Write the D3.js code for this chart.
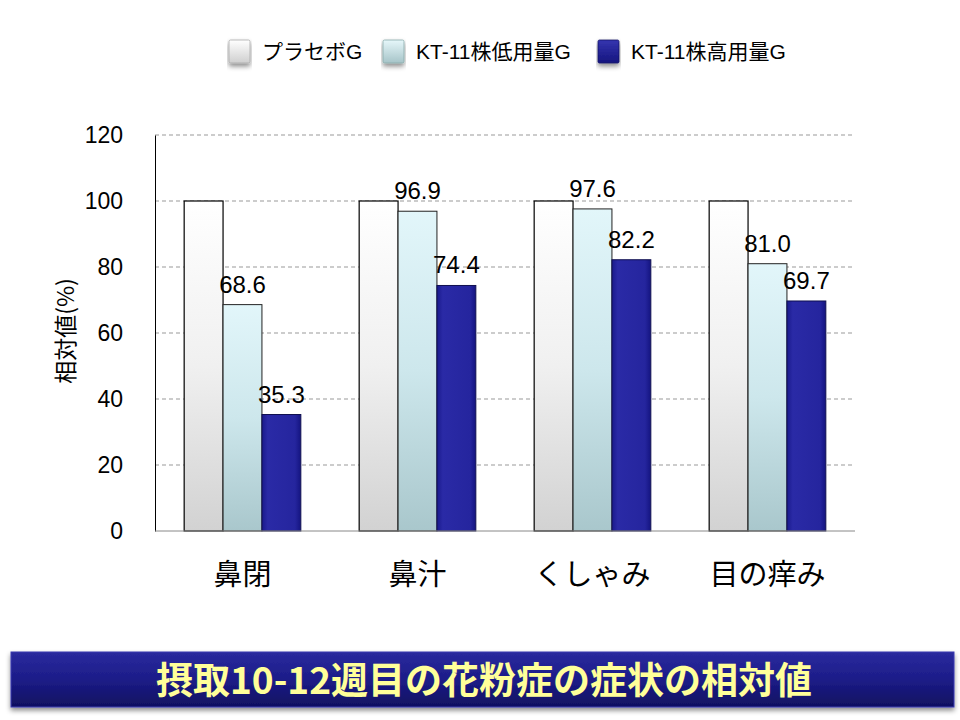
<!DOCTYPE html>
<html><head><meta charset="utf-8">
<script src="https://cdn.jsdelivr.net/npm/d3@7"></script>
<style>
body{margin:0;background:#fff;}
svg{display:block;font-family:"Liberation Sans","Noto Sans CJK JP",sans-serif;}
</style></head>
<body><svg id="c" width="960" height="720"></svg>
<script>
const categories = ["鼻閉","鼻汁","くしゃみ","目の痒み"];
const seriesNames = ["プラセボG","KT-11株低用量G","KT-11株高用量G"];
const placebo = [100,100,100,100];
const lowDose = [68.6,96.9,97.6,81.0];
const highDose = [35.3,74.4,82.2,69.7];
const yTicks = [0,20,40,60,80,100,120];
const title = "摂取10-12週目の花粉症の症状の相対値";
const yLabel = "相対値(%)";

(function(){
const LAT = "'Liberation Sans','Noto Sans CJK JP',sans-serif";
const CJK = "'Noto Sans CJK JP','Liberation Sans',sans-serif";
const svg = d3.select("#c");
const defs = svg.append("defs");
function grad(id, stops, horiz){
  const g = defs.append("linearGradient").attr("id",id)
    .attr("x1",0).attr("y1",0).attr("x2",horiz?1:0).attr("y2",horiz?0:1);
  stops.forEach(s=>g.append("stop").attr("offset",s[0]).attr("stop-color",s[1]));
}
grad("g0",[[0,"#ffffff"],[0.5,"#f0f0f0"],[1,"#d2d2d2"]]);
grad("g1",[[0,"#e2f6fa"],[0.5,"#cde7ec"],[1,"#a9c7cc"]]);
grad("g2",[[0,"#1a1a8c"],[0.15,"#2a2aa6"],[0.85,"#25259e"],[1,"#141480"]],true);
grad("gl0",[[0,"#ffffff"],[1,"#cfcfcf"]]);
grad("gl1",[[0,"#e6f7fa"],[1,"#a6c4c8"]]);
grad("gl2",[[0,"#3535b0"],[1,"#15157e"]]);
grad("ban",[[0,"#2a2a9e"],[0.5,"#1c1c88"],[1,"#101060"]]);
const shadow = defs.append("filter").attr("id","sh").attr("x","-5%").attr("y","-20%").attr("width","110%").attr("height","160%");
shadow.append("feDropShadow").attr("dx",0).attr("dy",3).attr("stdDeviation",2.5).attr("flood-color","#000").attr("flood-opacity",0.45);

const fills = ["url(#g0)","url(#g1)","url(#g2)"];
const strokes = ["#000","#222","#101050"];
const data = [placebo, lowDose, highDose];

const pL=155, pR=855, pT=135, pB=531;
const x = d3.scaleBand().domain(categories).range([pL,pR]).paddingInner(1/3).paddingOuter(1/6);
const xs = d3.scaleBand().domain(d3.range(3)).range([0,x.bandwidth()]);
const y = d3.scaleLinear().domain([0,120]).range([pB,pT]);

svg.append("g").selectAll("line").data(yTicks.filter(d=>d>0)).join("line")
  .attr("x1",pL).attr("x2",pR).attr("y1",d=>y(d)).attr("y2",d=>y(d))
  .attr("stroke","#999").attr("stroke-dasharray","4,3").attr("stroke-width",1);

const ya = svg.append("g").attr("transform",`translate(${pL},0)`)
  .call(d3.axisLeft(y).tickValues(yTicks).tickSize(0).tickPadding(32));
ya.select(".domain").attr("stroke","#000");
ya.selectAll("text").attr("font-size",23).attr("fill","#000").attr("font-family",LAT);

const groups = svg.append("g").selectAll("g").data(categories).join("g")
  .attr("transform",d=>`translate(${x(d)},0)`);
groups.each(function(cat,ci){
  const g=d3.select(this);
  data.forEach((arr,si)=>{
    const v=arr[ci];
    g.append("rect").attr("x",xs(si)).attr("width",xs.bandwidth())
      .attr("y",y(v)).attr("height",y(0)-y(v))
      .attr("fill",fills[si]).attr("stroke",strokes[si]).attr("stroke-width",si===0?1.2:1);
    if(si>0){
      g.append("text").attr("x",xs(si)+xs.bandwidth()/2).attr("y",y(v)-12)
        .attr("text-anchor","middle").attr("font-size",24).attr("fill","#000")
        .attr("font-family",LAT).text(v.toFixed(1));
    }
  });
});

svg.append("line").attr("x1",pL).attr("x2",pR).attr("y1",pB).attr("y2",pB).attr("stroke","#888");

svg.append("g").selectAll("text").data(categories).join("text")
  .attr("x",d=>x(d)+x.bandwidth()/2).attr("y",585).attr("text-anchor","middle")
  .attr("font-size",29).attr("font-family",CJK).attr("fill","#000").text(d=>d);

svg.append("text").attr("transform",`translate(74,331) rotate(-90)`)
  .attr("text-anchor","middle").attr("font-size",23).attr("font-family",CJK).text(yLabel);

const legX=[229,383,598];
const leg = svg.append("g").selectAll("g").data(seriesNames).join("g")
  .attr("transform",(d,i)=>`translate(${legX[i]},40)`);
leg.append("rect").attr("width",21).attr("height",23).attr("rx",1.5)
  .attr("fill",(d,i)=>`url(#gl${i})`).attr("stroke",(d,i)=>["#aaa","#8aa","#111166"][i]).attr("stroke-width",0.8)
  .attr("filter","url(#sh)");
leg.append("text").attr("x",33).attr("y",19).attr("font-size",21)
  .attr("font-family",LAT).text(d=>d);

svg.append("rect").attr("x",11).attr("y",652).attr("width",943).attr("height",55)
  .attr("fill","url(#ban)").attr("stroke","#3a3ab0").attr("stroke-width",1).attr("filter","url(#sh)");
svg.append("text").attr("x",484).attr("y",694).attr("text-anchor","middle")
  .attr("font-size",37).attr("font-weight","bold").attr("fill","#ffff99")
  .attr("font-family",CJK).text(title);
})();
</script></body></html>
